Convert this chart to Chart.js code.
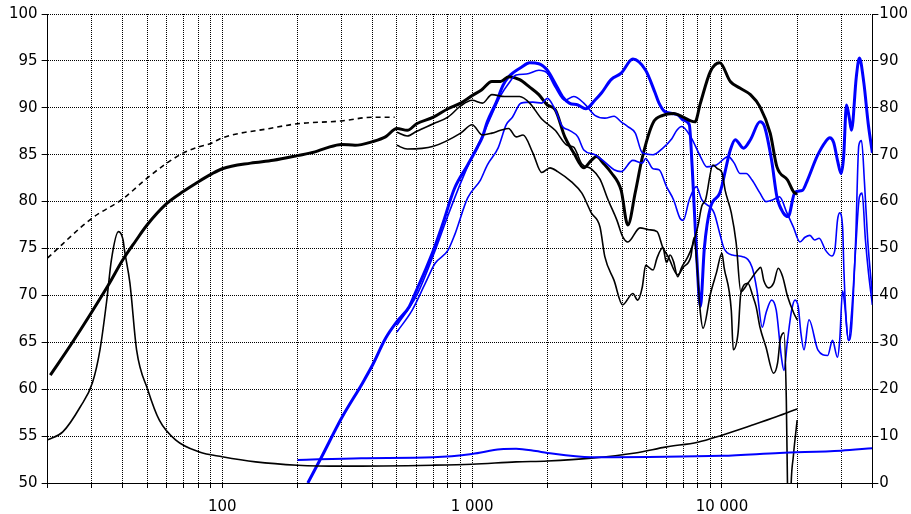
<!DOCTYPE html>
<html><head><meta charset="utf-8">
<script src="https://cdn.jsdelivr.net/npm/chart.js@4.4.1/dist/chart.umd.min.js"></script>
<style>html,body{margin:0;padding:0;background:#fff;overflow:hidden}#wrap{width:911px;height:514px;position:relative}</style>
</head><body><div id="wrap"><canvas id="c" width="911" height="514"></canvas></div>
<script>
// ---- axis ticks ----
const xTicks = [20,30,40,50,60,70,80,90,100,200,300,400,500,600,700,800,900,1000,2000,3000,4000,5000,6000,7000,8000,9000,10000,20000,30000,40000];
const xLabels = {100:'100', 1000:'1 000', 10000:'10 000'};
const leftTicks = [50,55,60,65,70,75,80,85,90,95,100];
const rightTicks = [0,10,20,30,40,50,60,70,80,90,100];

// ---- woofer SPL on axis (thick black, dB) ----
const wooferF = [20.5,25,30,35,40,45,50,60,70,80,90,100,130,160,200,235,260,300,340,400,450,500,550,600,700,800,900,1000,1090,1200,1300,1400,1550,1700,1850,2000,2150,2350,2550,2800,3000,3150,3350,3600,3950,4200,4500,4800,5300,5800,6400,7000,7500,7800,8200,9000,9800,10800,11800,13000,14200,15600,16600,18300,19400,20000];
const wooferDb = [61.5,64.9,68.2,71.1,73.8,75.8,77.5,79.8,81.1,82.1,82.9,83.5,84.1,84.4,84.9,85.3,85.7,86.1,86.0,86.4,86.9,87.8,87.6,88.3,89.0,89.9,90.5,91.3,91.9,92.8,92.8,93.3,93.0,92.2,91.4,90.3,89.8,86.9,85.2,83.6,84.4,84.8,84.1,83.1,81.2,77.5,81.0,84.7,88.4,89.2,89.4,89.0,88.6,88.5,90.5,93.9,94.8,92.8,92.1,91.4,90.1,87.3,83.7,82.3,81.0,80.8];

// ---- low-frequency estimate (dashed black, dB) ----
const dashedF = [20,30,40,50,60,70,80,90,100,155,200,300,400,490];
const dashedDb = [74.0,78.2,80.3,82.5,84.1,85.2,85.8,86.2,86.8,87.8,88.3,88.6,89.0,89.0];

// ---- woofer off-axis 1 (thin black, dB) ----
const woofer30F = [500,550,600,700,800,900,1000,1100,1200,1350,1550,1700,1900,2150,2400,2550,2750,3000,3250,3500,3800,4000,4200,4700,5100,5500,5800,6100,6650,7000,7500,7740,7950,8180,8400,9000,9500,10000,10200,10900,11100,11600,11900,12700,13300,13700,14200,15000,16100,16700,17100,17700,18100,18300,18600,18900,19300,20000];
const woofer30Db = [87.4,87.0,87.5,88.3,89.0,90.2,90.8,90.5,91.4,91.2,91.2,90.5,88.8,87.6,86.0,85.8,84.0,83.5,82.4,80.2,78.0,76.3,75.7,77.2,77.0,76.8,75.1,74.1,72.2,73.0,74.1,76.2,73.0,68.4,66.5,70.2,72.4,74.5,73.0,68.4,64.2,66.0,70.2,71.3,69.9,68.8,66.6,64.5,61.7,62.8,65.2,66.0,58.8,49.5,40.0,49.5,52.8,56.7];

// ---- woofer off-axis 2 (thin black, dB) ----
const woofer60F = [500,550,700,900,1000,1100,1200,1300,1400,1500,1600,1750,1900,2050,2200,2500,2750,3000,3250,3400,3700,4000,4400,4600,4800,4950,5300,5500,5800,6000,6200,6400,6650,6900,7300,7600,8000,8300,8600,9200,9600,10000,10300,10900,11400,11900,12700,13900,14300,14700,15400,16100,16800,17500,18300,19400,20000];
const woofer60Db = [86.0,85.6,85.9,87.3,88.2,87.1,87.3,87.6,87.8,86.9,87.1,85.2,83.1,83.6,83.2,82.1,80.9,78.8,77.3,74.1,71.6,69.0,70.2,69.5,70.9,73.2,72.7,74.0,75.1,73.5,74.3,73.6,72.0,73.0,74.1,75.2,77.3,79.5,80.2,83.9,83.5,83.1,81.2,78.8,75.6,70.4,71.3,72.7,73.0,71.6,70.8,71.3,72.9,72.0,69.9,68.1,67.4];

// ---- tweeter on axis (thick blue, dB) ----
const tweeterF = [220,250,300,365,400,450,500,560,600,650,700,760,850,960,1050,1100,1150,1250,1330,1400,1470,1570,1700,1850,2000,2150,2300,2450,2650,2850,3100,3300,3600,3950,4400,4950,5400,5600,5900,6300,6700,7000,7400,7600,7900,8200,8500,9000,9800,10800,11300,12200,13000,14200,14800,15800,16600,17600,18400,19600,21000,22000,24000,26000,27000,28000,29000,30000,30700,31500,32300,33000,34500,35500,37000,38500,40000];
const tweeterDb = [50.0,52.8,56.9,60.7,62.6,65.4,67.2,68.8,70.6,72.7,74.8,77.5,81.4,83.9,85.8,86.9,88.5,90.6,92.4,93.3,93.8,94.3,94.8,94.7,94.0,92.6,91.2,90.5,90.3,89.9,90.8,91.6,93.0,93.7,95.2,94.0,91.6,90.5,89.6,89.4,89.2,88.7,88.2,83.7,74.8,68.8,75.0,79.4,80.9,85.5,86.6,85.7,86.6,88.5,88.0,84.4,80.5,78.8,78.4,81.0,81.2,82.3,84.8,86.4,86.8,86.3,84.4,83.0,84.8,90.3,89.0,87.6,93.3,95.3,92.6,88.3,85.2];

// ---- tweeter off-axis 1 (thin blue, dB) ----
const tweeter30F = [500,600,700,800,900,1000,1100,1200,1300,1400,1500,1650,1850,2000,2150,2350,2550,2800,3100,3400,3700,3950,4200,4500,4800,5300,5800,6300,6600,6900,7500,8200,8700,9500,10600,11200,11800,12500,13200,14200,15000,16000,17000,18200,19300,20500,21500,22500,23500,24500,26000,27500,28300,29000,29600,30400,30800,31500,32100,33000,34300,35300,36200,37200,38300,40000];
const tweeter30Db = [66.8,70.0,74.3,78.5,82.0,84.8,87.0,89.3,91.3,92.6,93.5,93.6,94.0,93.7,92.2,90.8,91.2,90.5,89.2,88.9,89.1,88.5,88.0,87.3,85.2,85.0,85.7,86.7,87.6,88.0,86.9,84.8,83.7,83.9,84.8,84.1,83.0,83.0,82.3,80.9,80.0,80.2,80.5,78.8,77.3,75.7,76.2,76.4,75.9,76.1,74.8,74.2,74.8,78.0,78.8,77.3,72.4,67.0,65.2,66.5,76.0,86.0,86.5,82.0,76.0,70.0];

// ---- tweeter off-axis 2 (thin blue, dB) ----
const tweeter60F = [500,575,650,710,800,850,960,1080,1150,1270,1370,1450,1570,1750,1900,2000,2150,2300,2450,2650,2800,3100,3400,3700,3950,4400,4800,4950,5300,5600,6000,6400,6800,7000,7400,7900,8300,9300,9800,10200,11000,12200,13200,13800,14500,15000,15800,16500,17300,17700,18300,19000,19600,20200,20700,21300,22300,24200,26500,27700,29000,29600,30400,31000,32100,33000,34300,35500,36400,37500,38600,40000];
const tweeter60Db = [66.1,68.4,71.3,73.4,74.8,76.4,80.4,82.3,83.9,85.7,88.2,89.0,90.5,90.6,90.5,91.0,89.8,88.0,87.6,86.9,85.5,85.0,84.2,83.4,83.2,84.4,84.1,84.6,83.5,83.4,81.6,80.2,78.2,78.0,80.2,81.6,80.2,78.8,76.6,75.0,74.3,74.1,73.0,70.6,66.6,68.1,69.5,68.4,63.4,62.0,65.2,68.4,69.5,68.8,66.0,64.2,67.4,64.2,63.6,65.2,63.4,65.2,70.5,69.0,65.2,68.0,75.0,80.5,80.9,76.0,72.4,69.0];

// ---- impedance woofer (thin black, ohm) ----
const impWooferF = [20,23,27,30.2,32.4,34.5,36,38.4,40.1,40.6,42.7,45.4,50.4,56,65,81,100,136,200,300,700,1000,1500,2000,3000,4500,6000,8000,10000,13000,16500,20000];
const impWooferOhm = [9.2,10.9,16.2,21.3,28.4,39.0,47.6,53.6,51.8,49.7,42.6,28.4,19.8,13.4,9.2,6.6,5.6,4.5,3.8,3.6,3.8,4.0,4.5,4.7,5.3,6.4,7.7,8.7,10.2,12.2,14.1,15.8];

// ---- impedance tweeter (blue, ohm) ----
const impTweeterF = [200,360,700,1000,1300,1500,1800,2000,3000,10000,17000,30000,40000];
const impTweeterOhm = [4.9,5.3,5.5,6.2,7.2,7.3,6.8,6.4,5.5,5.8,6.4,6.9,7.4];

const BLUE = 'rgb(0,0,255)';
const FONT = {family: '"DejaVu Sans", Verdana, sans-serif', size: 15};
const XFONT = {family: '"DejaVu Sans", Verdana, sans-serif', size: 15, lineHeight: '22px'};
const pts = (f, v) => f.map((x, i) => ({x: x, y: v[i]}));
const ds = (f, v, color, w, axis, dash) => ({
  data: pts(f, v), borderColor: color, borderWidth: w, borderDash: dash || [],
  pointRadius: 0, fill: false, cubicInterpolationMode: 'monotone', yAxisID: axis
});

new Chart(document.getElementById('c'), {
  type: 'line',
  data: {datasets: [
    ds(impTweeterF, impTweeterOhm, BLUE, 2, 'y1'),
    ds(impWooferF, impWooferOhm, '#000', 1.6, 'y1'),
    ds(dashedF, dashedDb, '#000', 1.6, 'y', [5, 4]),
    ds(woofer60F, woofer60Db, '#000', 1.6, 'y'),
    ds(woofer30F, woofer30Db, '#000', 1.6, 'y'),
    ds(tweeter60F, tweeter60Db, BLUE, 1.6, 'y'),
    ds(tweeter30F, tweeter30Db, BLUE, 1.6, 'y'),
    ds(wooferF, wooferDb, '#000', 3, 'y'),
    ds(tweeterF, tweeterDb, BLUE, 3, 'y')
  ]},
  options: {
    responsive: false, animation: false, devicePixelRatio: 1,
    layout: {padding: {left: 5, right: 2, top: 14, bottom: 0}},
    plugins: {legend: {display: false}, tooltip: {enabled: false}},
    scales: {
      x: {
        type: 'logarithmic', position: 'bottom', min: 20, max: 40000,
        afterBuildTicks: (axis) => { axis.ticks = xTicks.map(v => ({value: v})); },
        afterFit: (axis) => { axis.height = 31; },
        ticks: {autoSkip: false, maxRotation: 0, minRotation: 0, color: '#000', font: XFONT, padding: 8,
                callback: (v) => xLabels[v] || ''},
        grid: {color: '#000', lineWidth: 1, tickLength: 5, tickColor: '#000', tickWidth: 1},
        border: {display: true, color: '#000', width: 1, dash: [1, 1]}
      },
      y: {
        type: 'linear', position: 'left', min: 50, max: 100,
        afterBuildTicks: (axis) => { axis.ticks = leftTicks.map(v => ({value: v})); },
        ticks: {color: '#000', font: FONT, padding: 4},
        grid: {color: '#000', lineWidth: 1, tickLength: 6, tickColor: '#000', tickWidth: 1},
        border: {display: true, color: '#000', width: 1, dash: [1, 1]}
      },
      y1: {
        type: 'linear', position: 'right', min: 0, max: 100,
        afterBuildTicks: (axis) => { axis.ticks = rightTicks.map(v => ({value: v})); },
        ticks: {color: '#000', font: FONT, padding: 1},
        grid: {drawOnChartArea: false, tickLength: 6, tickColor: '#000', tickWidth: 1, color: '#000'},
        border: {display: true, color: '#000', width: 1}
      }
    }
  }
});
</script></body></html>
